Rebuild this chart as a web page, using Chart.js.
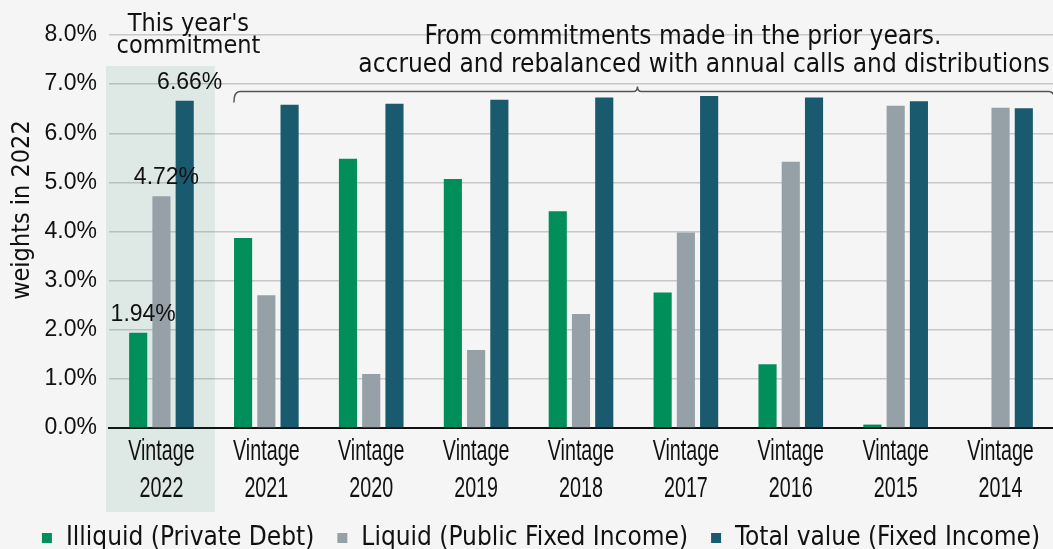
<!DOCTYPE html>
<html>
<head>
<meta charset="utf-8">
<script src="https://cdn.jsdelivr.net/npm/chart.js@4"></script>
<style>
  html, body { margin: 0; padding: 0; background: #f5f5f5; }
  #wrap { width: 1053px; height: 549px; }
</style>
</head>
<body>
<div id="wrap"><canvas id="chartCanvas" width="1053" height="549"></canvas></div>
<script>
// values, in percent
const categories = [
  ['Vintage', '2022'], ['Vintage', '2021'], ['Vintage', '2020'],
  ['Vintage', '2019'], ['Vintage', '2018'], ['Vintage', '2017'],
  ['Vintage', '2016'], ['Vintage', '2015'], ['Vintage', '2014']
];
const illiquid = [1.94, 3.87, 5.48, 5.07, 4.41, 2.76, 1.30, 0.07, 0];
const liquid = [4.72, 2.70, 1.10, 1.59, 2.32, 3.98, 5.42, 6.56, 6.52];
const totalValue = [6.66, 6.58, 6.60, 6.68, 6.73, 6.76, 6.73, 6.65, 6.51];
const seriesNames = ['Illiquid (Private Debt)', 'Liquid (Public Fixed Income)', 'Total value (Fixed Income)'];
const yTicks = [0, 1, 2, 3, 4, 5, 6, 7, 8];

const condFont = '"DejaVu Sans Condensed", "DejaVu Sans", sans-serif';

// shaded column, narrow x labels, value labels, bracket and notes
const annotations = {
  id: 'annotations',
  afterLayout(chart) {
    // legend sits a little right of centre in the original
    chart.legend.left += 14;
    chart.legend.right += 14;
  },
  beforeDatasetsDraw(chart) {
    const { ctx } = chart;
    const x = chart.scales.x, y = chart.scales.y;
    const half = (x.getPixelForValue(1) - x.getPixelForValue(0)) / 2;
    const left = x.getPixelForValue(0) - half - 3;
    const top = y.getPixelForValue(7.37);
    ctx.save();
    ctx.fillStyle = 'rgba(0,120,80,0.09)';
    ctx.fillRect(left, top, half * 2 + 4, chart.chartArea.bottom + 84 - top);
    ctx.restore();
  },
  afterDatasetsDraw(chart) {
    const { ctx } = chart;
    const x = chart.scales.x, y = chart.scales.y;
    ctx.save();
    ctx.fillStyle = '#111';
    ctx.textAlign = 'center';
    ctx.textBaseline = 'middle';

    // x labels, condensed
    ctx.font = '29px "Liberation Sans", Arial, sans-serif';
    categories.forEach((lines, i) => {
      const cx = x.getPixelForValue(i);
      lines.forEach((t, j) => {
        ctx.save();
        ctx.translate(cx, chart.chartArea.bottom + 24 + j * 37);
        ctx.scale(0.68, 1);
        ctx.fillText(t, 0, 0);
        ctx.restore();
      });
    });

    // values above 2022 bars
    ctx.font = '23px "Liberation Sans", Arial, sans-serif';
    chart.data.datasets.forEach((ds, i) => {
      const bar = chart.getDatasetMeta(i).data[0];
      ctx.fillText(ds.data[0].toFixed(2) + '%', bar.x + 5, bar.y - 18);
    });

    // "This year's commitment"
    const c0 = x.getPixelForValue(0) + 27;
    ctx.font = '25px ' + condFont;
    ctx.fillText("This year's", c0, 24);
    ctx.fillText('commitment', c0, 46);

    // bracket over prior years
    const half = (x.getPixelForValue(1) - x.getPixelForValue(0)) / 2;
    const bl = x.getPixelForValue(1) - half + 20;
    const br = chart.width + 2;
    const by = y.getPixelForValue(6.85);
    const mid = (x.getPixelForValue(4) + x.getPixelForValue(5)) / 2 + 4;
    ctx.strokeStyle = '#555';
    ctx.lineWidth = 1.5;
    ctx.beginPath();
    ctx.moveTo(bl, by + 11);
    ctx.quadraticCurveTo(bl, by, bl + 6, by);
    ctx.lineTo(mid - 4, by);
    ctx.quadraticCurveTo(mid, by, mid, by - 5);
    ctx.quadraticCurveTo(mid, by, mid + 4, by);
    ctx.lineTo(br - 6, by);
    ctx.quadraticCurveTo(br, by, br, by + 11);
    ctx.stroke();

    ctx.font = '26px ' + condFont;
    ctx.fillText('From commitments made in the prior years.', 683, 37);
    ctx.fillText('accrued and rebalanced with annual calls and distributions', 704, 65);
    ctx.restore();
  }
};

const ctx = document.getElementById('chartCanvas').getContext('2d');
new Chart(ctx, {
  type: 'bar',
  data: {
    labels: categories,
    datasets: [
      { label: seriesNames[0], data: illiquid, backgroundColor: '#008f5a' },
      { label: seriesNames[1], data: liquid, backgroundColor: '#95a0a7' },
      { label: seriesNames[2], data: totalValue, backgroundColor: '#1a5a6f' }
    ]
  },
  options: {
    responsive: false,
    animation: false,
    layout: { padding: { top: 35, right: 0, left: 0, bottom: -12 } },
    datasets: { bar: { categoryPercentage: 0.665, barPercentage: 0.78 } },
    scales: {
      x: {
        grid: { display: false },
        border: { color: '#111', width: 2 },
        ticks: { display: false },
        afterFit(scale) { scale.height = 75; }
      },
      y: {
        min: 0,
        max: 8,
        afterBuildTicks(axis) { axis.ticks = yTicks.map(v => ({ value: v })); },
        afterFit(scale) { scale.width = 109; },
        grid: { color: '#c8c8c8', lineWidth: 1.5, drawTicks: false },
        border: { display: false },
        ticks: {
          color: '#111',
          padding: 12,
          font: { family: '"Liberation Sans", Arial, sans-serif', size: 23 },
          callback: v => v.toFixed(1) + '%'
        },
        title: {
          display: true,
          text: '      weights in 2022',
          color: '#111',
          padding: { top: 7, bottom: 0 },
          font: { family: condFont, size: 25 }
        }
      }
    },
    plugins: {
      tooltip: { enabled: false },
      legend: {
        position: 'bottom',
        labels: {
          color: '#111',
          usePointStyle: true,
          pointStyle: 'rect',
          boxWidth: 12,
          boxHeight: 10,
          padding: 22,
          font: { family: condFont, size: 26 }
        }
      }
    }
  },
  plugins: [annotations]
});
</script>
</body>
</html>
